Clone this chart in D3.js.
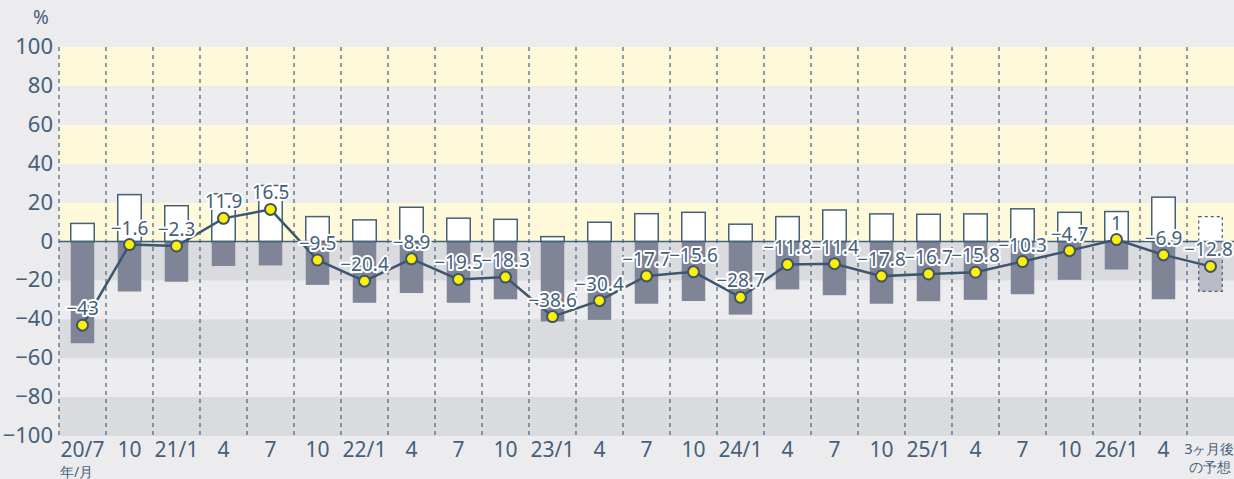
<!DOCTYPE html>
<html>
<head>
<meta charset="utf-8">
<script src="https://cdn.jsdelivr.net/npm/d3@7"></script>
<style>
	body { margin: 0; background: #ececef; }
	svg { display: block; }
	text { font-family: "Liberation Sans Narrow", "Noto Sans", sans-serif; }
</style>
</head>
<body>
<div id="chart"></div>
<script>
// 年/月 categories
var categories = ["20/7","10","21/1","4","7","10","22/1","4","7","10","23/1","4","7","10","24/1","4","7","10","25/1","4","7","10","26/1","4","3ヶ月後"];
// DI values (line)
var diValues = [-43,-1.6,-2.3,11.9,16.5,-9.5,-20.4,-8.9,-19.5,-18.3,-38.6,-30.4,-17.7,-15.6,-28.7,-11.8,-11.4,-17.8,-16.7,-15.8,-10.3,-4.7,1,-6.9,-12.8];
// share answering up (white bars)
var upValues = [9.3,24.1,18.4,24.5,28.8,12.8,11.1,17.6,12.0,11.4,2.5,9.9,14.3,15.0,8.9,12.8,16.2,14.2,14.0,14.2,16.8,15.0,15.4,22.8,12.8];
// share answering down (grey bars)
var downValues = [52.3,25.7,20.7,12.6,12.3,22.3,31.5,26.5,31.5,29.7,41.1,40.3,32.0,30.6,37.6,24.6,27.6,32.0,30.7,30.0,27.1,19.7,14.4,29.7,25.6];
var yTicks = [100,80,60,40,20,0,-20,-40,-60,-80,-100];

var W = 1234, H = 479;
var margin = {top: 47, right: 0, bottom: 43, left: 59};
var ink = "#44607a";

var svg = d3.select("#chart").append("svg")
	.attr("width", W)
	.attr("height", H);

svg.append("rect").attr("width", W).attr("height", H).attr("fill", "#ececef");

var x = d3.scaleBand()
	.domain(d3.range(categories.length))
	.range([margin.left, W - margin.right])
	.paddingInner(0.5)
	.paddingOuter(0.25);
var step = x.step();

var y = d3.scaleLinear()
	.domain([-100, 100])
	.range([H - margin.bottom, margin.top]);

// background bands
var bands = [];
for (var v = -100; v < 100; v += 20) bands.push(v);
svg.append("g").selectAll("rect")
	.data(bands)
	.enter().append("rect")
	.attr("x", margin.left)
	.attr("width", W - margin.left)
	.attr("y", function(d){ return y(d + 20); })
	.attr("height", function(d){ return y(d) - y(d + 20); })
	.attr("fill", function(d){
		if (d >= 0) return (d / 20) % 2 == 0 ? "#fef9d8" : "#ececef";
		return ((-d) / 20) % 2 == 1 ? "#dadbdf" : "#ececef";
	});

// dashed vertical separators
svg.append("g").selectAll("line")
	.data(d3.range(categories.length))
	.enter().append("line")
	.attr("x1", function(d){ return margin.left + d * step; })
	.attr("x2", function(d){ return margin.left + d * step; })
	.attr("y1", y(100))
	.attr("y2", y(-100))
	.attr("stroke", ink)
	.attr("stroke-width", 1.2)
	.attr("stroke-dasharray", "4,4");

var last = categories.length - 1;

// down bars
svg.append("g").selectAll("rect")
	.data(downValues)
	.enter().append("rect")
	.attr("x", function(d, i){ return x(i); })
	.attr("width", x.bandwidth())
	.attr("y", y(0))
	.attr("height", function(d){ return y(-d) - y(0); })
	.attr("fill", function(d, i){ return i == last ? "#babbc6" : "#7f8596"; })
	.attr("stroke", function(d, i){ return i == last ? ink : "none"; })
	.attr("stroke-width", 1.2)
	.attr("stroke-dasharray", "3,3");

// up bars
svg.append("g").selectAll("rect")
	.data(upValues)
	.enter().append("rect")
	.attr("x", function(d, i){ return x(i); })
	.attr("width", x.bandwidth())
	.attr("y", function(d){ return y(d); })
	.attr("height", function(d){ return y(0) - y(d); })
	.attr("fill", "#ffffff")
	.attr("stroke", ink)
	.attr("stroke-width", function(d, i){ return i == last ? 1.2 : 1.5; })
	.attr("stroke-dasharray", function(d, i){ return i == last ? "3,3" : null; });

// zero line
svg.append("line")
	.attr("x1", margin.left).attr("x2", W)
	.attr("y1", y(0)).attr("y2", y(0))
	.attr("stroke", ink)
	.attr("stroke-width", 1.5);

var cx = function(i){ return x(i) + x.bandwidth() / 2; };

// DI line
svg.append("path")
	.datum(diValues)
	.attr("d", d3.line().x(function(d, i){ return cx(i); }).y(function(d){ return y(d); }))
	.attr("fill", "none")
	.attr("stroke", "#3d566e")
	.attr("stroke-width", 2.5);

svg.append("g").selectAll("circle")
	.data(diValues)
	.enter().append("circle")
	.attr("cx", function(d, i){ return cx(i); })
	.attr("cy", function(d){ return y(d); })
	.attr("r", 5.5)
	.attr("fill", "#fff000")
	.attr("stroke", "#3d566e")
	.attr("stroke-width", 2);

// value labels
svg.append("g").selectAll("text")
	.data(diValues)
	.enter().append("text")
	.attr("x", function(d, i){ return i == last ? cx(i) - 2 : cx(i); })
	.attr("y", function(d){ return y(d) - 10; })
	.attr("text-anchor", "middle")
	.attr("font-size", 19)
	.attr("fill", ink)
	.attr("stroke", "#ffffff")
	.attr("stroke-width", 4)
	.attr("stroke-linejoin", "round")
	.attr("paint-order", "stroke")
	.text(function(d){ return d < 0 ? "\u2212" + (-d) : d; });

// y axis labels
svg.append("g").selectAll("text")
	.data(yTicks)
	.enter().append("text")
	.attr("x", 53)
	.attr("y", function(d){ return y(d) + 7; })
	.attr("text-anchor", "end")
	.attr("font-size", 22)
	.attr("fill", ink)
	.text(function(d){ return d < 0 ? "\u2212" + (-d) : d; });

svg.append("text")
	.attr("x", 41).attr("y", 24)
	.attr("text-anchor", "middle")
	.attr("font-size", 19)
	.attr("fill", ink)
	.text("%");

// x axis labels
svg.append("g").selectAll("text")
	.data(categories.slice(0, last))
	.enter().append("text")
	.attr("x", function(d, i){ return cx(i); })
	.attr("y", 457)
	.attr("text-anchor", "middle")
	.attr("font-size", 21)
	.attr("fill", ink)
	.text(function(d){ return d; });

svg.append("text")
	.attr("x", cx(last) - 1).attr("y", 454)
	.attr("text-anchor", "middle")
	.attr("font-size", 14)
	.attr("fill", ink)
	.text(categories[last]);
svg.append("text")
	.attr("x", cx(last) - 1).attr("y", 472)
	.attr("text-anchor", "middle")
	.attr("font-size", 14)
	.attr("fill", ink)
	.text("の予想");

svg.append("text")
	.attr("x", 60).attr("y", 477)
	.attr("font-size", 14)
	.attr("fill", ink)
	.text("年/月");
</script>
</body>
</html>
